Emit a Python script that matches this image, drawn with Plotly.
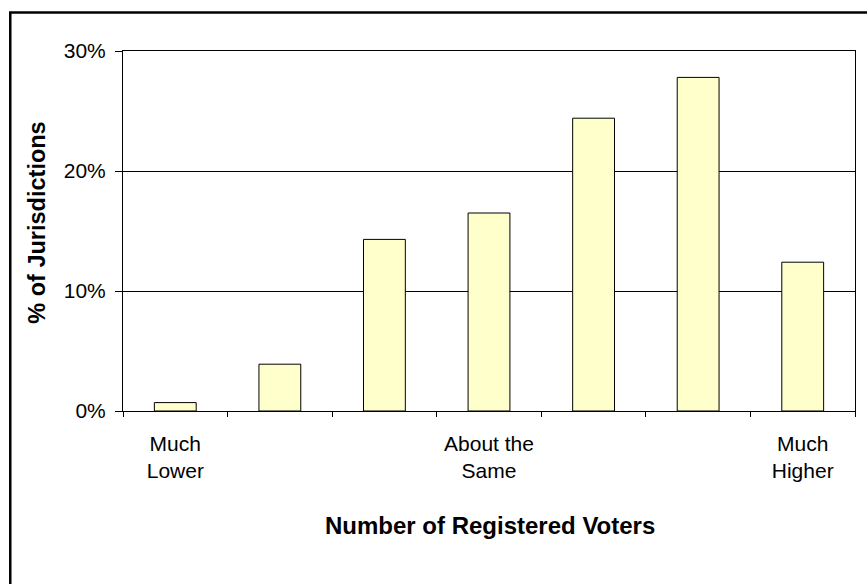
import plotly.graph_objects as go

# Distribution of jurisdictions by change in number of registered voters
positions = [1, 2, 3, 4, 5, 6, 7]
share_pct = [0.7, 3.9, 14.3, 16.5, 24.4, 27.8, 12.4]
label_positions = [1, 4, 7]
label_text = ["Much<br>Lower", "About the<br>Same", "Much<br>Higher"]
boundary_ticks = [0.5, 1.5, 2.5, 3.5, 4.5, 5.5, 6.5, 7.5]
y_ticks = [0, 10, 20, 30]
y_tick_text = ["0%", "10%", "20%", "30%"]

FONT = "Liberation Sans, Arial, sans-serif"

fig = go.Figure()
fig.add_trace(go.Bar(
    x=positions,
    y=share_pct,
    width=0.4,
    marker=dict(color="#FFFFCC", line=dict(color="#000000", width=1)),
    hoverinfo="y",
    showlegend=False,
))
# invisible trace so the label axis is drawn
fig.add_trace(go.Scatter(x=[positions[0]], y=[0], xaxis="x2", mode="markers",
                         marker=dict(opacity=0), showlegend=False, hoverinfo="skip"))

fig.update_layout(
    width=867, height=584,
    margin=dict(l=123, r=12, t=51, b=173),
    paper_bgcolor="white", plot_bgcolor="white",
    font=dict(family=FONT, color="#000000", size=21),
    xaxis=dict(
        range=[0.5, 7.5], tickmode="array", tickvals=boundary_ticks,
        ticktext=[""] * len(boundary_ticks), ticks="outside", ticklen=5,
        tickcolor="#000000", tickwidth=1, showgrid=False, zeroline=False,
        showline=True, linecolor="#000000", linewidth=1, mirror=True,
        fixedrange=True,
    ),
    xaxis2=dict(
        overlaying="x", anchor="y", side="bottom", matches="x",
        range=[0.5, 7.5], tickmode="array", tickvals=label_positions,
        ticktext=label_text, ticks="", showgrid=False, zeroline=False,
        showline=False, ticklabelstandoff=18,
        tickfont=dict(family=FONT, size=21, color="#000000"),
    ),
    yaxis=dict(
        range=[0, 30], tickmode="array", tickvals=y_ticks, ticktext=y_tick_text,
        ticks="outside", ticklen=7, tickcolor="#000000", tickwidth=1,
        showgrid=True, gridcolor="#000000", gridwidth=1, zeroline=False,
        showline=True, linecolor="#000000", linewidth=1, mirror=True,
        ticklabelstandoff=5,
        tickfont=dict(family=FONT, size=21, color="#000000"),
    ),
    annotations=[
        dict(text="<b>% of Jurisdictions</b>", xref="paper", yref="paper",
             x=-0.118, y=0.522, xanchor="center", yanchor="middle",
             textangle=-90, showarrow=False,
             font=dict(family=FONT, size=23.5, color="#000000")),
        dict(text="<b>Number of Registered Voters</b>", xref="paper", yref="paper",
             x=0.502, y=-0.318, xanchor="center", yanchor="middle",
             showarrow=False,
             font=dict(family=FONT, size=24, color="#000000")),
    ],
    shapes=[
        dict(type="rect", xref="paper", yref="paper",
             x0=-0.154, x1=1.1, y0=-0.6, y1=1.107,
             line=dict(color="#000000", width=2.5), fillcolor="rgba(0,0,0,0)",
             layer="below"),
    ],
)

fig.write_html("out.html")
